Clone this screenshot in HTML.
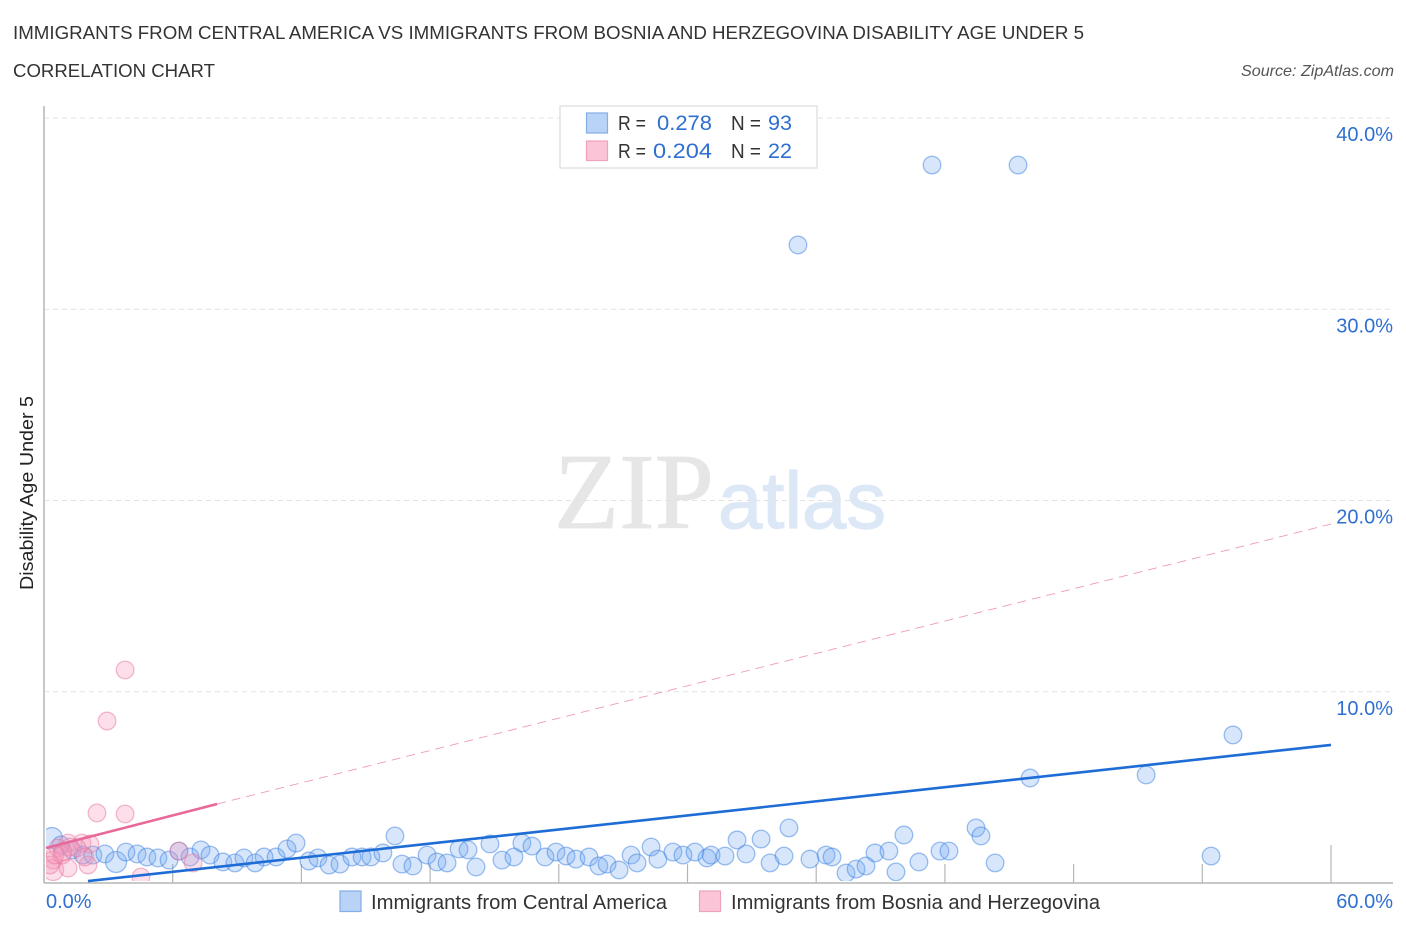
<!DOCTYPE html>
<html lang="en">
<head>
<meta charset="utf-8">
<title>Immigrants from Central America vs Immigrants from Bosnia and Herzegovina Disability Age Under 5</title>
<style>
html,body{margin:0;padding:0;background:#fff;width:1406px;height:930px;overflow:hidden}
svg{display:block;font-family:"Liberation Sans",sans-serif}
</style>
</head>
<body>
<svg id="chart" width="1406" height="930" viewBox="0 0 1406 930">
  <defs>
    <clipPath id="plot-clip"><rect x="46" y="100" width="1340" height="781"/></clipPath>
  </defs>
  <text x="13" y="39" font-size="18.5" fill="#333" textLength="1071" lengthAdjust="spacingAndGlyphs">IMMIGRANTS FROM CENTRAL AMERICA VS IMMIGRANTS FROM BOSNIA AND HERZEGOVINA DISABILITY AGE UNDER 5</text>
  <text x="13" y="77" font-size="18.5" fill="#333" textLength="202" lengthAdjust="spacingAndGlyphs">CORRELATION CHART</text>
  <text x="1394" y="76" font-size="16" font-style="italic" fill="#555" text-anchor="end" textLength="153" lengthAdjust="spacingAndGlyphs">Source: ZipAtlas.com</text>

  <text x="554" y="528" font-size="108" font-family="'Liberation Serif',serif" fill="#e6e6e6" stroke="#e6e6e6" stroke-width="0.8" textLength="160" lengthAdjust="spacingAndGlyphs">ZIP</text>
  <text x="718" y="528" font-size="80" font-family="'Liberation Sans',sans-serif" fill="#dde8f7" stroke="#dde8f7" stroke-width="1.2" textLength="168" lengthAdjust="spacingAndGlyphs">atlas</text>

  <g id="grid"></g>
  <g id="axes"></g>
  <g clip-path="url(#plot-clip)">
    <g id="blue-points"></g>
    <g id="pink-points"></g>
  </g>
  <g id="trends"></g>

  <text x="34" y="493" font-size="18" fill="#222" text-anchor="middle" transform="rotate(-90 34 493) translate(0 -1)" textLength="194" lengthAdjust="spacingAndGlyphs">Disability Age Under 5</text>

  <g>
    <rect x="560" y="106" width="257" height="62" fill="#fff" stroke="#dcdcdc" stroke-width="1.2"/>
    <rect x="586.5" y="113" width="21" height="20" fill="#b9d3f7" stroke="#84aee6" stroke-width="1.2"/>
    <rect x="586.5" y="141" width="21" height="19.5" fill="#fcc5d7" stroke="#eca3bb" stroke-width="1.2"/>
    <text x="618" y="130" font-size="20" fill="#333" textLength="28" lengthAdjust="spacingAndGlyphs">R =</text>
    <text x="657" y="130" font-size="21" fill="#2f6fd1" textLength="55" lengthAdjust="spacingAndGlyphs">0.278</text>
    <text x="731" y="130" font-size="20" fill="#333" textLength="30" lengthAdjust="spacingAndGlyphs">N =</text>
    <text x="768" y="130" font-size="21" fill="#2f6fd1" textLength="24" lengthAdjust="spacingAndGlyphs">93</text>
    <text x="618" y="158" font-size="20" fill="#333" textLength="28" lengthAdjust="spacingAndGlyphs">R =</text>
    <text x="653" y="158" font-size="21" fill="#2f6fd1" textLength="59" lengthAdjust="spacingAndGlyphs">0.204</text>
    <text x="731" y="158" font-size="20" fill="#333" textLength="30" lengthAdjust="spacingAndGlyphs">N =</text>
    <text x="768" y="158" font-size="21" fill="#2f6fd1" textLength="24" lengthAdjust="spacingAndGlyphs">22</text>
  </g>

  <g>
    <rect x="340" y="891" width="21" height="20.5" fill="#b9d3f7" stroke="#84aee6" stroke-width="1.2"/>
    <text x="371" y="909" font-size="20" fill="#333" textLength="296" lengthAdjust="spacingAndGlyphs">Immigrants from Central America</text>
    <rect x="699.5" y="891" width="21" height="20.5" fill="#fcc5d7" stroke="#eca3bb" stroke-width="1.2"/>
    <text x="731" y="909" font-size="20" fill="#333" textLength="369" lengthAdjust="spacingAndGlyphs">Immigrants from Bosnia and Herzegovina</text>
  </g>
</svg>
<script>
const yTickValues = [10, 20, 30, 40];
const yTickLabels = ["10.0%", "20.0%", "30.0%", "40.0%"];
const xTickValues = [0, 6, 12, 18, 24, 30, 36, 42, 48, 54, 60];
const xEndValues = [0, 60];
const xEndLabels = ["0.0%", "60.0%"];

const blueX = [0.37,0.79,1.31,1.82,2.28,2.84,3.36,3.82,4.34,4.80,5.31,5.83,6.29,6.81,7.32,7.74,8.34,8.90,9.32,9.84,10.26,10.82,11.33,11.75,12.35,12.77,13.29,13.80,14.36,14.83,15.24,15.80,16.36,16.69,17.20,17.86,18.32,18.79,19.35,19.77,20.14,20.79,21.35,21.91,22.28,22.75,23.36,23.87,24.34,24.80,25.41,25.87,26.25,26.81,27.37,27.65,28.30,28.62,29.32,29.79,30.35,30.91,31.10,31.75,32.31,32.73,33.43,33.85,34.50,34.73,35.71,36.46,36.74,37.39,37.86,38.32,38.74,39.39,40.09,39.72,40.79,41.77,42.19,43.45,43.68,44.34,45.97,51.38,55.43,54.41,35.15,41.40,45.41];
const blueY = [2.35,1.99,1.73,1.46,1.46,1.52,1.10,1.62,1.52,1.36,1.31,1.20,1.67,1.36,1.73,1.46,1.10,1.05,1.31,1.05,1.36,1.36,1.78,2.09,1.15,1.31,0.94,0.99,1.36,1.36,1.36,1.57,2.46,0.99,0.89,1.46,1.10,1.05,1.78,1.73,0.84,2.04,1.20,1.36,2.09,1.93,1.36,1.62,1.41,1.25,1.36,0.89,0.99,0.68,1.46,1.05,1.88,1.25,1.62,1.46,1.62,1.31,1.46,1.41,2.25,1.52,2.30,1.05,1.41,2.88,1.25,1.46,1.36,0.52,0.73,0.89,1.57,1.67,2.51,0.58,1.10,1.67,1.67,2.88,2.46,1.05,5.49,5.65,7.74,1.41,33.36,37.54,37.54];
const blueLargeIndex = [0, 6];

const pinkX = [3.78,2.94,2.47,3.78,4.52,6.29,6.95,0.42,1.12,2.05,0.65,1.12,1.77,2.14,0.42,0.28,1.54,0.84,1.21,0.51,1.91,0.89];
const pinkY = [11.14,8.47,3.66,3.61,0.31,1.67,1.05,0.68,0.78,0.94,1.83,2.09,2.09,2.04,1.20,0.94,1.83,1.46,1.88,1.46,1.36,1.62];
const pinkLargeIndex = [7];

const blueTrendX = [2.05, 60];
const blueTrendY = [0.10, 7.22];
const pinkTrendX = [0.09, 8.07];
const pinkTrendY = [1.83, 4.13];
const pinkProjectedX = [8.07, 60];
const pinkProjectedY = [4.13, 18.77];

const NS = 'http://www.w3.org/2000/svg';
function xScale(v){ return 44 + v * (1331 - 44) / 60; }
function yScale(v){ return 883 - v * (883 - 118) / 40; }
function make(tag, parent, attrs){
  const el = document.createElementNS(NS, tag);
  Object.keys(attrs).forEach(function(k){ el.setAttribute(k, attrs[k]); });
  parent.appendChild(el);
  return el;
}
const grid = document.getElementById('grid');
const axes = document.getElementById('axes');

yTickValues.forEach(function(v, i){
  const line = make('line', grid, {x1:44, x2:1393, y1:yScale(v), y2:yScale(v), stroke:'#e2e2e2', 'stroke-width':1, 'stroke-dasharray':'5 4'});
  
  
  const label = make('text', axes, {x:1393, y:yScale(v) + 23, 'font-size':20, fill:'#2f6fd1', 'text-anchor':'end'});
  label.textContent = yTickLabels[i];
  
  
});

const yAxis = make('line', axes, {x1:44, x2:44, y1:106, y2:883, stroke:'#b5b5b5', 'stroke-width':1.5});


const xAxis = make('line', axes, {x1:44, x2:1393, y1:883, y2:883, stroke:'#b5b5b5', 'stroke-width':1.5});



xTickValues.forEach(function(v){
  const isEnd = v === 60;
  const tick = make('line', axes, {x1:xScale(v), x2:xScale(v), y1:883, y2:isEnd ? 845 : 864, stroke:'#b5b5b5', 'stroke-width':1.2});
  
  
});
xEndValues.forEach(function(v, i){
  const label = make('text', axes, {x:i === 0 ? xScale(v) + 2 : 1393, y:908, 'font-size':20, fill:'#2f6fd1', 'text-anchor':i === 0 ? 'start' : 'end'});
  label.textContent = xEndLabels[i];
  
  
});

const bluePts = document.getElementById('blue-points');
blueX.forEach(function(v, i){
  const r = blueLargeIndex.indexOf(i) >= 0 ? 10.5 : 8.8;
  const c = make('circle', bluePts, {cx:xScale(v), cy:yScale(blueY[i]), r:r, fill:'rgba(110,165,240,0.28)', stroke:'rgba(60,130,225,0.5)', 'stroke-width':1.3});
  
  
});
const pinkPts = document.getElementById('pink-points');
pinkX.forEach(function(v, i){
  const r = pinkLargeIndex.indexOf(i) >= 0 ? 10.5 : 8.8;
  const c = make('circle', pinkPts, {cx:xScale(v), cy:yScale(pinkY[i]), r:r, fill:'rgba(245,150,185,0.3)', stroke:'rgba(232,120,160,0.5)', 'stroke-width':1.3});
  
  
});

const trends = document.getElementById('trends');
const tPinkDash = make('line', trends, {x1:xScale(pinkProjectedX[0]), y1:yScale(pinkProjectedY[0]), x2:xScale(pinkProjectedX[1]), y2:yScale(pinkProjectedY[1]), stroke:'#f09ab8', 'stroke-width':0.9, 'stroke-dasharray':'9 6'});


const tPink = make('line', trends, {x1:xScale(pinkTrendX[0]), y1:yScale(pinkTrendY[0]), x2:xScale(pinkTrendX[1]), y2:yScale(pinkTrendY[1]), stroke:'#e8689a', 'stroke-width':2.6});


const tBlue = make('line', trends, {x1:xScale(blueTrendX[0]), y1:yScale(blueTrendY[0]), x2:xScale(blueTrendX[1]), y2:yScale(blueTrendY[1]), stroke:'#1e6cd6', 'stroke-width':2.6});


</script>
</body>
</html>
